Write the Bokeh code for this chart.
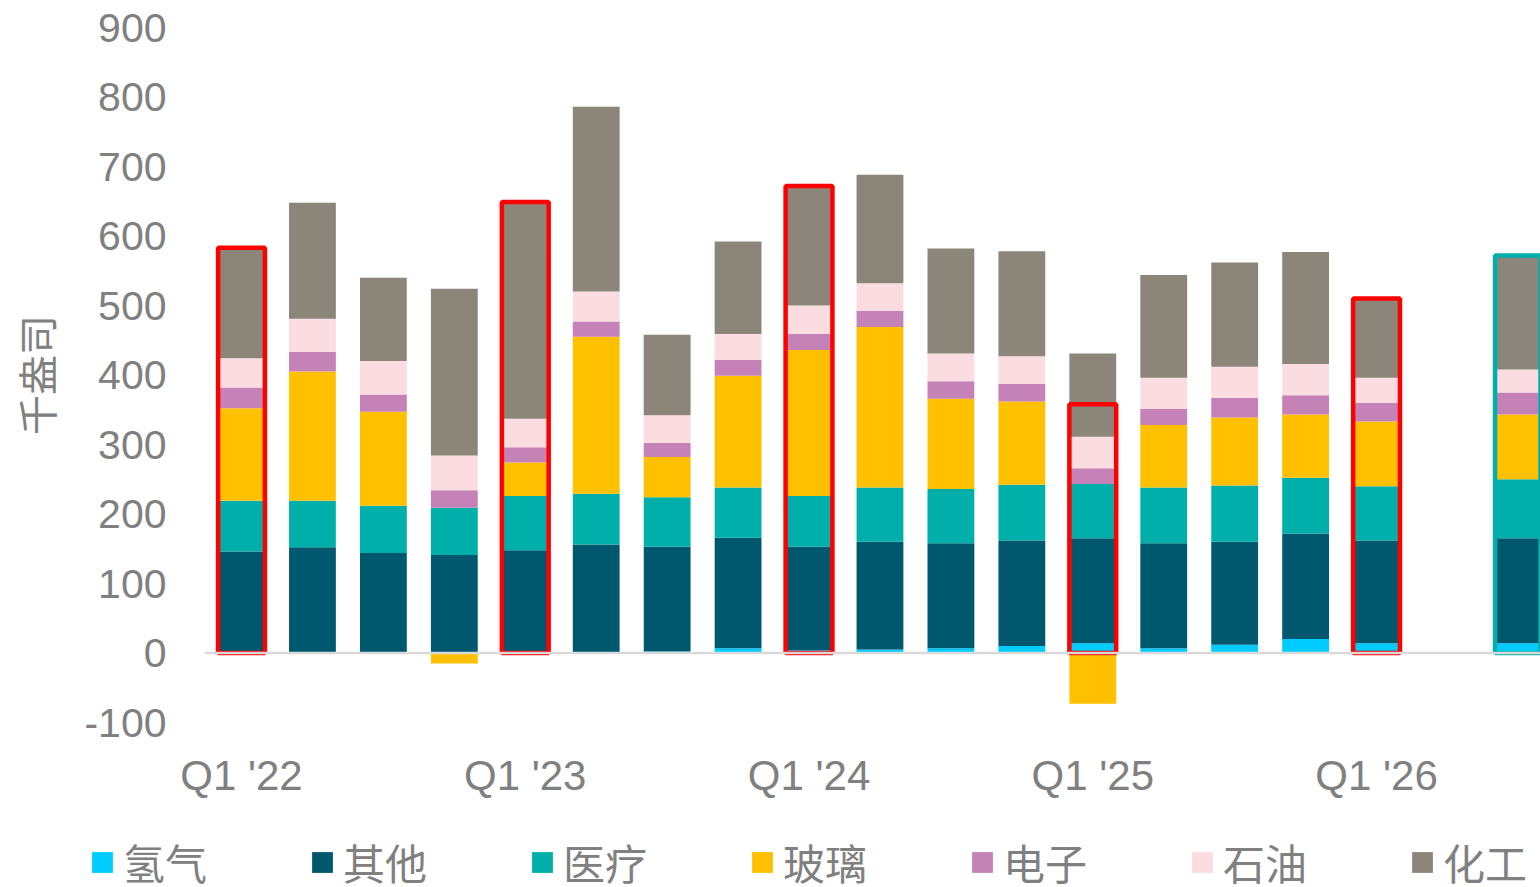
from bokeh.plotting import figure
from bokeh.models import ColumnDataSource, FixedTicker, Span, Legend, LegendItem, Range1d
from bokeh.embed import file_html
from bokeh.resources import INLINE
import math

periods = ["Q1 '22", "Q2 '22", "Q3 '22", "Q4 '22",
           "Q1 '23", "Q2 '23", "Q3 '23", "Q4 '23",
           "Q1 '24", "Q2 '24", "Q3 '24", "Q4 '24",
           "Q1 '25", "Q2 '25", "Q3 '25", "Q4 '25",
           "Q1 '26", "", ""]

series_names = ["氢气", "其他", "医疗", "玻璃", "电子", "石油", "化工"]
colors = ["#00CCFF", "#00586F", "#00AFAA", "#FFC000", "#C582B6", "#FBDDE1", "#8C857A"]

N = None
hydrogen = [0, 0, 0, 0, 0, 0, 2, 7, 4, 5, 7, 10, 14, 7, 12, 20, 14, N, 14]
other    = [146, 152, 144, 141, 148, 156, 151, 159, 149, 155, 151, 152, 151, 151, 148, 152, 148, N, 151]
medical  = [73, 67, 68, 68, 78, 73, 71, 72, 73, 78, 78, 80, 78, 80, 81, 80, 78, N, 85]
glass    = [133, 186, 135, -15, 48, 226, 58, 161, 210, 231, 130, 120, -73, 90, 98, 91, 93, N, 93]
electron = [30, 28, 25, 25, 22, 22, 20, 23, 23, 23, 25, 25, 23, 23, 28, 28, 27, N, 32]
oil      = [42, 48, 48, 50, 41, 43, 40, 37, 41, 40, 40, 40, 45, 45, 45, 45, 36, N, 33]
chemical = [159, 167, 120, 240, 312, 266, 116, 133, 172, 156, 151, 151, 120, 148, 150, 161, 114, N, 164]

outline_colors = ["#FF0000", None, None, None, "#FF0000", None, None, None,
                  "#FF0000", None, None, None, "#FF0000", None, None, None,
                  "#FF0000", None, "#00AFAA"]

y_ticks = [-100, 0, 100, 200, 300, 400, 500, 600, 700, 800, 900]

series = [hydrogen, other, medical, glass, electron, oil, chemical]
x = list(range(len(periods)))

# stacking: positives upward, negatives downward (as Excel does)
pos = [0.0] * len(x)
neg = [0.0] * len(x)
data = {"x": x}
for k, s in enumerate(series):
    bots, tops = [], []
    for i, v in enumerate(s):
        if v is None:
            bots.append(math.nan); tops.append(math.nan)
        elif v >= 0:
            bots.append(pos[i]); tops.append(pos[i] + v); pos[i] += v
        else:
            tops.append(neg[i]); bots.append(neg[i] + v); neg[i] += v
    data[f"b{k}"] = bots
    data[f"t{k}"] = tops
net = [pos[i] + neg[i] if hydrogen[i] is not None else math.nan for i in x]
src = ColumnDataSource(data)

grey = "#808080"

p = figure(width=1540, height=820, output_backend="svg", toolbar_location=None,
           x_range=Range1d(-0.5216, 18.311), y_range=Range1d(-100, 900),
           min_border_left=204, min_border_right=0, min_border_top=27, min_border_bottom=98)
p.outline_line_color = None
p.xgrid.visible = False
p.ygrid.visible = False

bw = 0.66
renderers = []
for k, name in enumerate(series_names):
    r = p.vbar(x="x", bottom=f"b{k}", top=f"t{k}", width=bw, source=src,
               fill_color=colors[k], line_color=None)
    renderers.append(r)

ox = [i for i in x if outline_colors[i]]
osrc = ColumnDataSource(dict(x=ox, top=[net[i] for i in ox], col=[outline_colors[i] for i in ox]))
p.vbar(x="x", bottom=0, top="top", width=bw, source=osrc, fill_color=None,
       line_color="col", line_width=4.5)

p.add_layout(Span(location=0, dimension="width", line_color="#D9D9D9", line_width=2.5))

p.xaxis.ticker = FixedTicker(ticks=[i for i, l in enumerate(periods) if l.startswith("Q1")])
p.xaxis.major_label_overrides = {i: l for i, l in enumerate(periods) if l}
p.xaxis.axis_line_color = None
p.xaxis.major_tick_line_color = None
p.xaxis.minor_tick_line_color = None
p.xaxis.major_label_text_font = "Liberation Sans"
p.xaxis.major_label_text_font_size = "42px"
p.xaxis.major_label_text_color = grey
p.xaxis.major_label_standoff = 23

p.yaxis.ticker = FixedTicker(ticks=y_ticks)
p.yaxis.major_label_overrides = {t: str(t) for t in y_ticks}
p.yaxis.axis_line_color = None
p.yaxis.major_tick_line_color = None
p.yaxis.minor_tick_line_color = None
p.yaxis.major_label_text_font = "Liberation Sans"
p.yaxis.major_label_text_font_size = "41px"
p.yaxis.major_label_text_color = grey
p.yaxis.major_label_standoff = 32
p.yaxis.axis_label = "千盎司"
p.yaxis.axis_label_text_font = "Noto Sans CJK SC"
p.yaxis.axis_label_text_font_size = "40px"
p.yaxis.axis_label_text_font_style = "normal"
p.yaxis.axis_label_text_color = grey
p.yaxis.axis_label_standoff = 16

# legend strip below the chart (separate root so its frame spans the full width)
lg = figure(width=1540, height=67, output_backend="svg", toolbar_location=None,
            x_range=Range1d(0, 1), y_range=Range1d(0, 1), x_axis_type=None, y_axis_type=None,
            min_border_left=0, min_border_right=0, min_border_top=0, min_border_bottom=0)
lg.outline_line_color = None
lg.xgrid.visible = False
lg.ygrid.visible = False
dummies = [lg.vbar(x=[math.nan], top=[math.nan], width=0.1, fill_color=c, line_color=None)
           for c in colors]
legend = Legend(items=[LegendItem(label=n, renderers=[r]) for n, r in zip(series_names, dummies)],
                orientation="horizontal", location=(89, -5),
                glyph_width=26, glyph_height=26, label_standoff=8, spacing=102,
                padding=0, margin=0, border_line_color=None, background_fill_alpha=0,
                label_text_font="Noto Sans CJK SC", label_text_font_size="42px",
                label_text_color=grey)
lg.add_layout(legend, "center")

open("out.html", "w").write(file_html([p, lg], INLINE))
